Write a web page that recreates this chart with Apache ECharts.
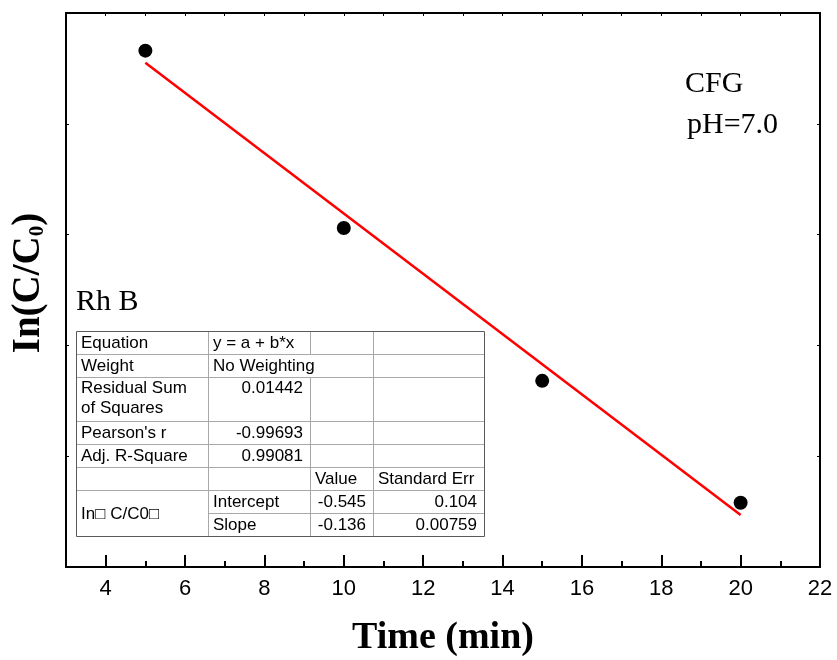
<!DOCTYPE html>
<html>
<head>
<meta charset="utf-8">
<script src="https://cdn.jsdelivr.net/npm/echarts@6/dist/echarts.min.js"></script>
<style>
html, body { margin: 0; padding: 0; background: #fff; }
#main { width: 837px; height: 660px; }
</style>
</head>
<body>
<div id="main"></div>
<script>
// measured points
var timeMin = [5, 10, 15, 20];
var lnC = [-1.17, -1.97, -2.66, -3.21];
// fitted line end points
var fitX = [5, 20];
var fitY = [-1.225, -3.265];

var xMajorTicks = [4, 6, 8, 10, 12, 14, 16, 18, 20, 22];
var xMinorTicks = [5, 7, 9, 11, 13, 15, 17, 19, 21];
var xTopTicks = [4, 5, 6, 7, 8, 9, 10, 11, 12, 13, 14, 15, 16, 17, 18, 19, 20, 21];

var sampleName = 'Rh B';
var noteLines = ['CFG', 'pH=7.0'];

// fit report table, one array per row (4 columns)
var tableRow1 = ['Equation', 'y = a + b*x', '', ''];
var tableRow2 = ['Weight', 'No Weighting', '', ''];
var tableRow3 = ['Residual Sum\nof Squares', '0.01442', '', ''];
var tableRow4 = ["Pearson's r", '-0.99693', '', ''];
var tableRow5 = ['Adj. R-Square', '0.99081', '', ''];
var tableRow6 = ['', '', 'Value', 'Standard Err'];
var tableRow7 = ['In\u25A1 C/C0\u25A1', 'Intercept', '-0.545', '0.104'];
var tableRow8 = ['', 'Slope', '-0.136', '0.00759'];
var tableRows = [tableRow1, tableRow2, tableRow3, tableRow4, tableRow5, tableRow6, tableRow7, tableRow8];

var SERIF = "'Liberation Serif', 'Times New Roman', serif";
var SANS = "'Liberation Sans', Arial, sans-serif";

// table layout
var colX = [76, 208, 310, 373, 484];
var rowY = [331, 354, 377, 421, 444, 467, 490, 513, 536];
var inner = '#a8a8a8';
var outer = '#5a5a5a';

function hLine(x1, x2, y, c) {
    return { type: 'line', silent: true, shape: { x1: x1, y1: y + 0.5, x2: x2, y2: y + 0.5 }, style: { stroke: c, lineWidth: 1 } };
}
function vLine(x, y1, y2, c) {
    return { type: 'line', silent: true, shape: { x1: x + 0.5, y1: y1, x2: x + 0.5, y2: y2 }, style: { stroke: c, lineWidth: 1 } };
}
function cellText(txt, x, y, align, vAlign) {
    return {
        type: 'text', silent: true, x: x, y: y,
        style: { text: txt, fill: '#000', font: '17px ' + SANS, align: align, verticalAlign: vAlign || 'middle', lineHeight: 20 }
    };
}

var tableEls = [];
// inner horizontal lines
for (var r = 1; r < rowY.length - 1; r++) {
    var startX = (r === 7) ? colX[1] : colX[0];
    tableEls.push(hLine(startX, colX[4], rowY[r], inner));
}
// inner vertical lines
tableEls.push(vLine(colX[1], rowY[0], rowY[8], inner));
tableEls.push(vLine(colX[2], rowY[0], rowY[1], inner));
tableEls.push(vLine(colX[2], rowY[2], rowY[8], inner));
tableEls.push(vLine(colX[3], rowY[0], rowY[8], inner));
// outer border
tableEls.push({ type: 'rect', silent: true, shape: { x: colX[0] + 0.5, y: rowY[0] + 0.5, width: colX[4] - colX[0], height: rowY[8] - rowY[0] },
    style: { fill: 'none', stroke: outer, lineWidth: 1 } });

// cell texts
var isNum = function (s) { return /^-?[0-9.]+$/.test(s); };
tableRows.forEach(function (row, r) {
    row.forEach(function (txt, c) {
        if (!txt) return;
        var top = rowY[r], bottom = rowY[r + 1];
        if (r === 6 && c === 0) { bottom = rowY[8]; }
        var y = (top + bottom) / 2 + 1;
        var vAlign = 'middle';
        if (r === 2) { y = top + 1; vAlign = 'top'; }
        if (isNum(txt)) {
            tableEls.push(cellText(txt, colX[c + 1] - 7, y, 'right', vAlign));
        } else {
            tableEls.push(cellText(txt, colX[c] + 5, y, 'left', vAlign));
        }
    });
});

var scatterData = timeMin.map(function (t, i) { return [t, lnC[i]]; });
var fitData = fitX.map(function (t, i) { return [t, fitY[i]]; });

var axisLineStyle = { color: '#000', width: 2 };

var option = {
    backgroundColor: '#fff',
    animation: false,
    grid: { left: 66, top: 13, right: 17, bottom: 93, containLabel: false, outerBoundsMode: 'none' },
    xAxis: [
        {
            type: 'value', min: 3, max: 22, position: 'bottom',
            axisLine: { show: true, lineStyle: axisLineStyle },
            axisTick: { show: true, inside: true, length: 12, customValues: xMajorTicks, lineStyle: { color: '#000', width: 2 } },
            axisLabel: { show: true, customValues: xMajorTicks, color: '#000', fontFamily: SANS, fontSize: 22, margin: 11 },
            splitLine: { show: false },
            name: 'Time (min)', nameLocation: 'middle', nameGap: 52,
            nameTextStyle: { color: '#000', fontFamily: SERIF, fontWeight: 'bold', fontSize: 38 }
        },
        {
            type: 'value', min: 3, max: 22, position: 'bottom',
            axisLine: { show: false },
            axisTick: { show: true, inside: true, length: 6, customValues: xMinorTicks, lineStyle: { color: '#000', width: 2 } },
            axisLabel: { show: false },
            splitLine: { show: false }
        },
        {
            type: 'value', min: 3, max: 22, position: 'top',
            axisLine: { show: true, lineStyle: axisLineStyle },
            axisTick: { show: true, inside: true, length: 3, customValues: xTopTicks, lineStyle: { color: '#000', width: 1 } },
            axisLabel: { show: false },
            splitLine: { show: false }
        }
    ],
    yAxis: [
        {
            type: 'value', min: -3.5, max: -1.0, interval: 0.5, position: 'left',
            axisLine: { show: true, lineStyle: axisLineStyle },
            axisTick: { show: true, inside: true, length: 3, lineStyle: { color: '#000', width: 1 } },
            axisLabel: { show: false },
            splitLine: { show: false }
        },
        {
            type: 'value', min: -3.5, max: -1.0, interval: 0.5, position: 'right',
            axisLine: { show: true, lineStyle: axisLineStyle },
            axisTick: { show: true, inside: true, length: 3, lineStyle: { color: '#000', width: 1 } },
            axisLabel: { show: false },
            splitLine: { show: false }
        }
    ],
    series: [
        {
            name: 'fit', type: 'line', xAxisIndex: 0, yAxisIndex: 0,
            data: fitData, showSymbol: false, symbol: 'none',
            lineStyle: { color: '#ff0000', width: 2.5 }, z: 2
        },
        {
            name: 'ln(C/C0)', type: 'scatter', xAxisIndex: 0, yAxisIndex: 0,
            data: scatterData, symbol: 'circle', symbolSize: 14,
            itemStyle: { color: '#000', opacity: 1 }, z: 3
        }
    ],
    graphic: [
        {
            type: 'text', silent: true, x: 29, y: 283, rotation: Math.PI / 2,
            style: {
                text: '{a|In(C/C}{s|0}{a|)}', align: 'center', verticalAlign: 'middle',
                rich: {
                    a: { font: 'bold 39px ' + SERIF, fill: '#000', lineHeight: 42 },
                    s: { font: 'bold 21px ' + SERIF, fill: '#000', lineHeight: 42, padding: [18, 0, 0, 0] }
                }
            }
        },
        { type: 'text', silent: true, x: 76, y: 302, style: { text: sampleName, font: '30px ' + SERIF, fill: '#000', align: 'left', verticalAlign: 'middle' } },
        { type: 'text', silent: true, x: 685, y: 84, style: { text: noteLines[0], font: '30px ' + SERIF, fill: '#000', align: 'left', verticalAlign: 'middle' } },
        { type: 'text', silent: true, x: 687, y: 125, style: { text: noteLines[1], font: '30px ' + SERIF, fill: '#000', align: 'left', verticalAlign: 'middle' } }
    ].concat(tableEls)
};

var myChart = echarts.init(document.getElementById('main'));
myChart.setOption(option);
</script>
</body>
</html>
